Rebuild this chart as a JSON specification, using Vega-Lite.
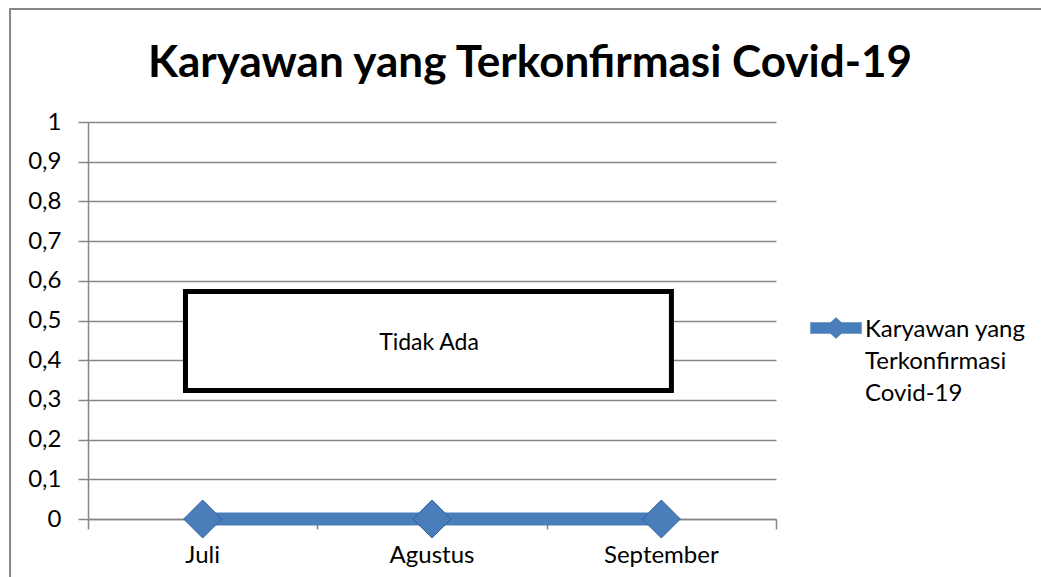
{
  "$schema": "https://vega.github.io/schema/vega-lite/v6.json",
  "autosize": {"type": "none"},
  "width": 688,
  "height": 397,
  "padding": {"left": 88, "top": 122, "right": 265, "bottom": 58},
  "background": "white",
  "title": {
    "text": "Karyawan yang Terkonfirmasi Covid-19",
    "font": "Lato",
    "fontSize": 44,
    "fontWeight": "bold",
    "color": "#000000",
    "anchor": "middle",
    "frame": "group",
    "baseline": "alphabetic",
    "dx": 98,
    "offset": 0,
    "dy": 113
  },
  "config": {
    "view": {"stroke": null},
    "font": "Lato",
    "axis": {
      "labelFont": "Lato",
      "labelFontSize": 24,
      "labelColor": "#000000",
      "domainColor": "#868686",
      "tickColor": "#868686",
      "gridColor": "#868686",
      "domainWidth": 1.5,
      "tickWidth": 1.5,
      "gridWidth": 1.5
    }
  },
  "resolve": {"scale": {"x": "independent"}, "axis": {"x": "independent"}},
  "layer": [
    {
      "data": {"values": [{"catatan": "Tidak Ada"}]},
      "layer": [
        {
          "mark": {"type": "rect", "fill": null, "fillOpacity": 0, "stroke": "#868686", "strokeWidth": 2, "clip": false},
          "encoding": {
            "x": {"datum": -0.34, "type": "quantitative", "scale": {"domain": [0, 3], "nice": false, "zero": false}, "axis": {"values": [0, 1, 2, 3], "labels": false, "domain": false, "grid": false, "ticks": true, "tickSize": 10, "title": null, "orient": "bottom"}},
            "x2": {"datum": 4.3},
            "y": {"datum": 1.2846, "type": "quantitative", "scale": {"domain": [0, 1], "nice": false}, "axis": {"title": null, "tickCount": 10, "labelExpr": "replace(format(datum.value, '.1~f'), '.', ',')", "tickSize": 10, "labelPadding": 17, "grid": true, "labelOverlap": false}},
            "y2": {"datum": -0.25}
          }
        },
        {
          "mark": {"type": "rect", "fill": "white", "stroke": "black", "strokeWidth": 5},
          "encoding": {
            "x": {"datum": 0.425, "type": "quantitative"},
            "x2": {"datum": 2.544},
            "y": {"datum": 0.573, "type": "quantitative"},
            "y2": {"datum": 0.3237}
          }
        },
        {
          "mark": {"type": "text", "font": "Lato", "fontSize": 23, "fontWeight": "normal", "color": "#000000", "align": "center", "baseline": "middle"},
          "encoding": {
            "text": {"field": "catatan"},
            "x": {"datum": 1.487, "type": "quantitative"},
            "y": {"datum": 0.443, "type": "quantitative"}
          }
        }
      ]
    },
    {
      "data": {
        "values": [
          {"bulan": "Juli", "jumlah": 0, "seri": "Karyawan yang Terkonfirmasi Covid-19"},
          {"bulan": "Agustus", "jumlah": 0, "seri": "Karyawan yang Terkonfirmasi Covid-19"},
          {"bulan": "September", "jumlah": 0, "seri": "Karyawan yang Terkonfirmasi Covid-19"}
        ]
      },
      "layer": [
        {
          "mark": {"type": "line", "strokeWidth": 13, "strokeCap": "butt"},
          "encoding": {
            "x": {"field": "bulan", "type": "nominal", "sort": null, "scale": {"paddingInner": 0, "paddingOuter": 0, "type": "band"}, "axis": {"title": null, "labelAngle": 0, "ticks": false, "labelPadding": 24, "domain": true, "grid": false, "orient": "bottom"}},
            "y": {"field": "jumlah", "type": "quantitative", "axis": {"title": null, "tickCount": 10, "labelExpr": "replace(format(datum.value, '.1~f'), '.', ',')", "tickSize": 10, "labelPadding": 17, "grid": true, "labelOverlap": false}},
            "color": {
              "field": "seri",
              "type": "nominal",
              "scale": {"range": ["#4A7EBB"]},
              "legend": {
                "title": null,
                "orient": "none",
                "legendX": 736,
                "legendY": 194,
                "symbolType": "M-2.43,-0.52L-0.52,-0.52L0,-1L0.52,-0.52L2.43,-0.52L2.43,0.52L0.52,0.52L0,1L-0.52,0.52L-2.43,0.52Z",
                "symbolSize": 441,
                "labelFont": "Lato",
                "labelFontSize": 24,
                "labelColor": "#000000",
                "labelOffset": 17,
                "labelLimit": 300,
                "labelExpr": "[slice(datum.label, 0, 13), slice(datum.label, 14, 27), slice(datum.label, 28)]",
                "encode": {
                  "symbols": {"update": {"fill": {"value": "#4A7EBB"}, "stroke": {"value": "#2F5F9A"}, "strokeWidth": {"value": 0.5}, "opacity": {"value": 1}}},
                  "labels": {"update": {"baseline": {"value": "alphabetic"}, "dy": {"value": 9}, "lineHeight": {"value": 32}}}
                }
              }
            }
          }
        },
        {
          "mark": {"type": "point", "shape": "diamond", "size": 1444, "filled": true, "fill": "#4A7EBB", "stroke": "#2F5F9A", "strokeWidth": 1, "opacity": 1},
          "encoding": {
            "x": {"field": "bulan", "type": "nominal", "sort": null},
            "y": {"field": "jumlah", "type": "quantitative"}
          }
        }
      ]
    }
  ]
}
